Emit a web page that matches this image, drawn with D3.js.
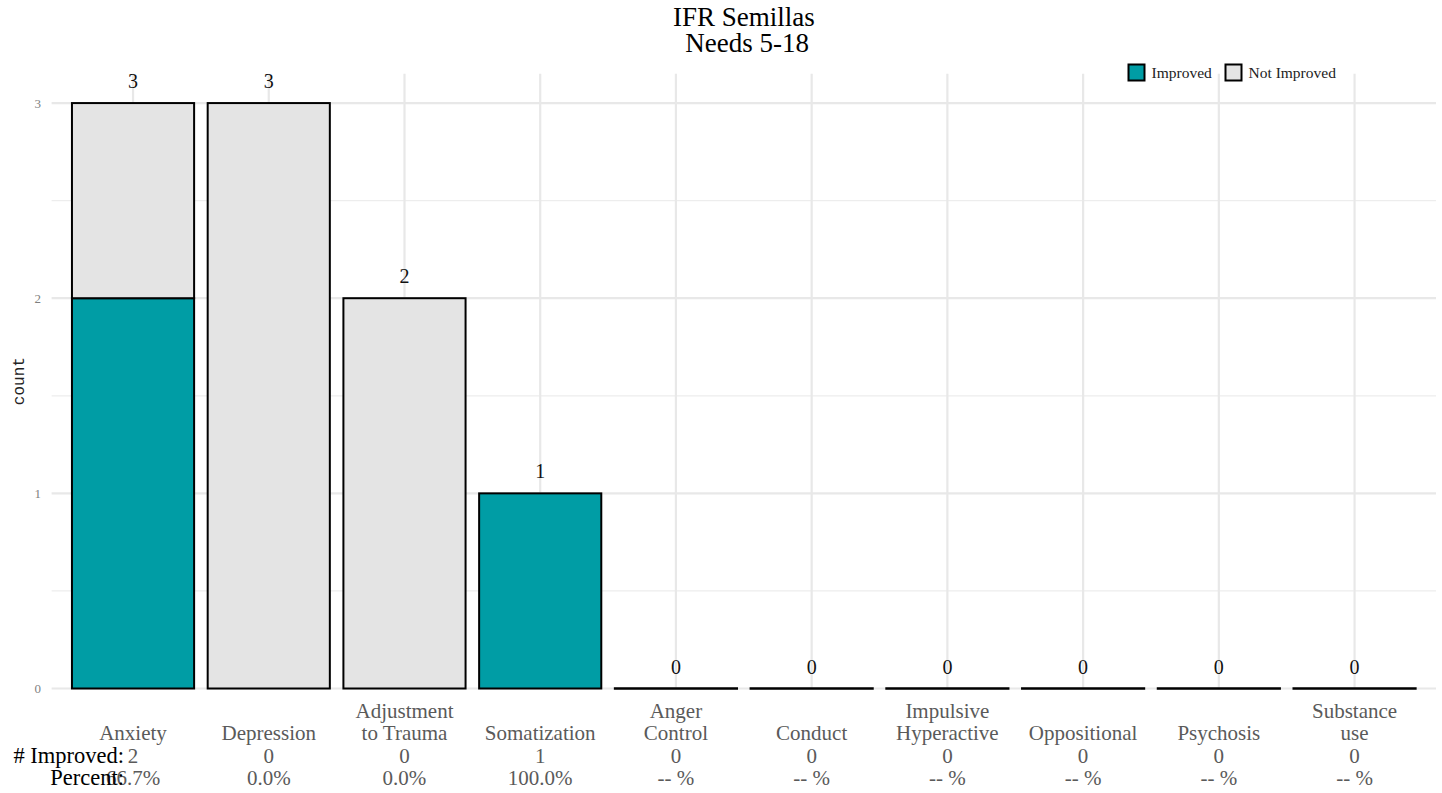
<!DOCTYPE html>
<html>
<head>
<meta charset="utf-8">
<script src="https://cdn.jsdelivr.net/npm/d3@7"></script>
<style>
  html, body { margin: 0; padding: 0; background: #fff; }
  svg { display: block; }
</style>
</head>
<body>
<svg id="chart" width="1442" height="793"></svg>
<script>
const categories = ["Anxiety", "Depression", "Adjustment to Trauma", "Somatization", "Anger Control", "Conduct", "Impulsive Hyperactive", "Oppositional", "Psychosis", "Substance use"];
const categoryLines = [["Anxiety"], ["Depression"], ["Adjustment", "to Trauma"], ["Somatization"], ["Anger", "Control"], ["Conduct"], ["Impulsive", "Hyperactive"], ["Oppositional"], ["Psychosis"], ["Substance", "use"]];
const improved = [2, 0, 0, 1, 0, 0, 0, 0, 0, 0];
const notImproved = [1, 3, 2, 0, 0, 0, 0, 0, 0, 0];
const percentLabels = ["66.7%", "0.0%", "0.0%", "100.0%", "-- %", "-- %", "-- %", "-- %", "-- %", "-- %"];
const yTicks = [0, 1, 2, 3];
const yMinor = [0.5, 1.5, 2.5];
const seriesNames = ["Improved", "Not Improved"];
const seriesColors = ["#009DA5", "#E4E4E4"];

const serif = "'Liberation Serif', 'Times New Roman', serif";
const svg = d3.select("#chart");

const panel = { left: 51.6, right: 1436, top: 73.8, bottom: 688.5 };
const step = (panel.right - panel.left) / 10.2;
const x = d3.scaleBand()
  .domain(categories)
  .range([panel.left + 0.1 * step, panel.right - 0.1 * step])
  .paddingInner(0.1)
  .paddingOuter(0.05);
const y = d3.scaleLinear().domain([0, 3.15]).range([panel.bottom, panel.top]);

// gridlines
const g = svg.append("g");
g.selectAll("line.minor").data(yMinor).join("line")
  .attr("x1", panel.left).attr("x2", panel.right)
  .attr("y1", d => y(d)).attr("y2", d => y(d))
  .attr("stroke", "#ededed").attr("stroke-width", 1.2);
g.selectAll("line.major").data(yTicks).join("line")
  .attr("x1", panel.left).attr("x2", panel.right)
  .attr("y1", d => y(d)).attr("y2", d => y(d))
  .attr("stroke", "#e8e8e8").attr("stroke-width", 2.2);
g.selectAll("line.vmajor").data(categories).join("line")
  .attr("x1", d => x(d) + x.bandwidth() / 2).attr("x2", d => x(d) + x.bandwidth() / 2)
  .attr("y1", panel.top).attr("y2", panel.bottom)
  .attr("stroke", "#e8e8e8").attr("stroke-width", 2.2);

// y axis labels
svg.append("g").selectAll("text").data(yTicks).join("text")
  .attr("x", 41).attr("y", d => y(d) + 4.5)
  .attr("text-anchor", "end")
  .attr("font-family", serif).attr("font-size", 13).attr("fill", "#7f7f7f")
  .text(d => d);

svg.append("text")
  .attr("transform", `translate(24, ${(panel.top + panel.bottom) / 2}) rotate(-90)`)
  .attr("text-anchor", "middle")
  .attr("font-family", "'Liberation Mono', 'DejaVu Sans Mono', monospace")
  .attr("font-size", 16).attr("fill", "#222")
  .text("count");

// stacked bars
const rows = categories.map((c, i) => ({ cat: c, Improved: improved[i], "Not Improved": notImproved[i] }));
const stack = d3.stack().keys(["Improved", "Not Improved"]);
const layers = stack(rows);
const bars = svg.append("g");
layers.forEach((layer, li) => {
  bars.selectAll(null).data(layer.filter(d => d[1] > d[0])).join("rect")
    .attr("x", d => x(d.data.cat))
    .attr("width", x.bandwidth())
    .attr("y", d => y(d[1]))
    .attr("height", d => y(d[0]) - y(d[1]))
    .attr("fill", seriesColors[li])
    .attr("stroke", "#000").attr("stroke-width", 2);
});
// zero-height bars drawn as their outline
const totals = categories.map((c, i) => improved[i] + notImproved[i]);
bars.selectAll("line.zero").data(categories.filter((c, i) => totals[i] === 0)).join("line")
  .attr("x1", d => x(d) - 1).attr("x2", d => x(d) + x.bandwidth() + 1)
  .attr("y1", y(0)).attr("y2", y(0))
  .attr("stroke", "#000").attr("stroke-width", 2.6);

// total labels
svg.append("g").selectAll("text").data(categories).join("text")
  .attr("x", d => x(d) + x.bandwidth() / 2)
  .attr("y", (d, i) => y(totals[i]) - 15)
  .attr("text-anchor", "middle")
  .attr("font-family", serif).attr("font-size", 20).attr("fill", "#111")
  .text((d, i) => totals[i]);

// x axis labels (bottom-aligned)
const lineH = 22.5;
const lastBase = 785;
const xl = svg.append("g");
categories.forEach((c, i) => {
  const lines = categoryLines[i].concat([String(improved[i]), percentLabels[i]]);
  const cx = x(c) + x.bandwidth() / 2;
  lines.forEach((ln, k) => {
    xl.append("text")
      .attr("x", cx)
      .attr("y", lastBase - (lines.length - 1 - k) * lineH)
      .attr("text-anchor", "middle")
      .attr("font-family", serif).attr("font-size", 21).attr("fill", "#5a5a5a")
      .text(ln);
  });
});

svg.append("text").attr("x", 124).attr("y", lastBase - lineH)
  .attr("text-anchor", "end").attr("font-family", serif).attr("font-size", 22.5).attr("fill", "#000")
  .text("# Improved:");
svg.append("text").attr("x", 124).attr("y", lastBase)
  .attr("text-anchor", "end").attr("font-family", serif).attr("font-size", 22.5).attr("fill", "#000")
  .text("Percent:");

// title
const tcx = (panel.left + panel.right) / 2;
svg.append("text").attr("x", tcx).attr("y", 26)
  .attr("text-anchor", "middle").attr("font-family", serif).attr("font-size", 27).attr("fill", "#000")
  .text("IFR Semillas");
svg.append("text").attr("x", tcx).attr("y", 52)
  .attr("text-anchor", "middle").attr("font-family", serif).attr("font-size", 27).attr("fill", "#000")
  .attr("xml:space", "preserve")
  .text(" Needs 5-18");

// legend
const legend = svg.append("g");
const legX = [1128.5, 1225.5];
seriesNames.forEach((s, i) => {
  legend.append("rect").attr("x", legX[i]).attr("y", 64.5).attr("width", 16).attr("height", 16)
    .attr("fill", seriesColors[i]).attr("stroke", "#000").attr("stroke-width", 2);
  legend.append("text").attr("x", legX[i] + 23).attr("y", 78)
    .attr("font-family", serif).attr("font-size", 15.5).attr("fill", "#222")
    .text(s);
});
</script>
</body>
</html>
